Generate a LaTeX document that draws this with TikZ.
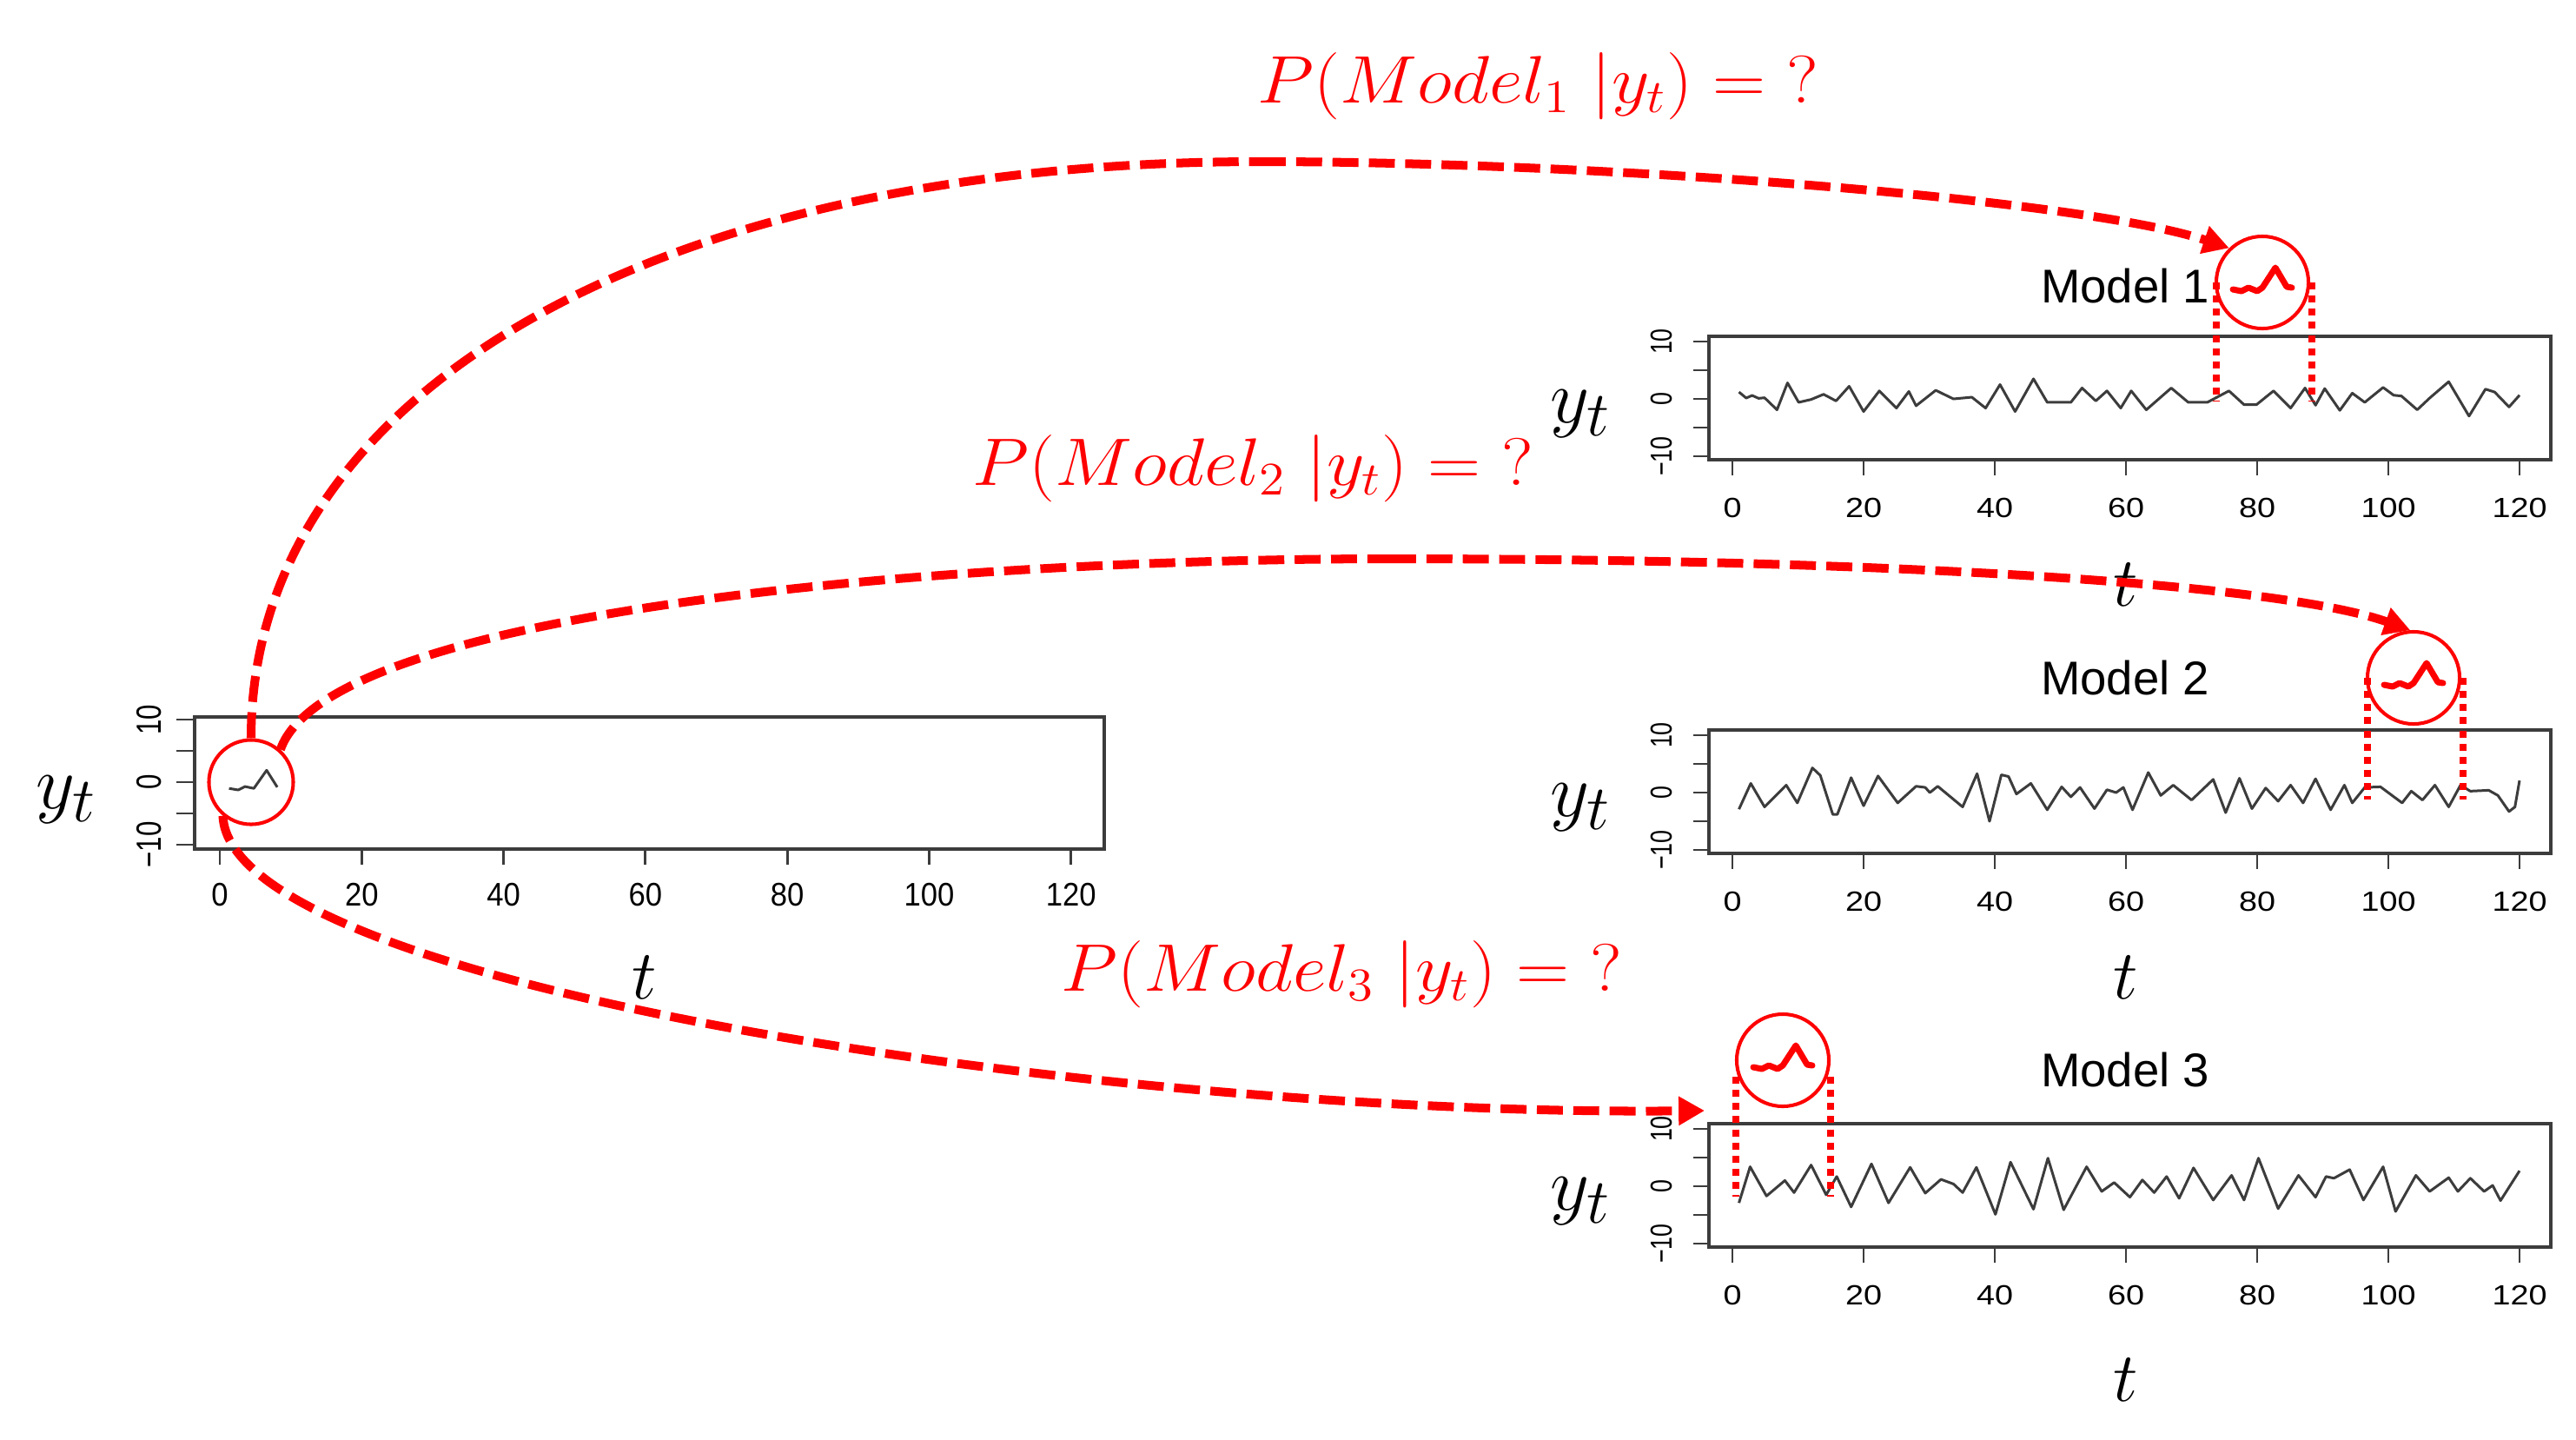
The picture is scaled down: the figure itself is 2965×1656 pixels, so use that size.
\documentclass[tikz,border=0pt]{standalone}
\usepackage{fontspec}
\newfontfamily\arialf{Liberation Sans}
\usetikzlibrary{arrows.meta}
\definecolor{pred}{HTML}{FF0000}
\definecolor{axgray}{HTML}{3C3C3C}
\newcommand\xlabR[1]{\scalebox{1.18}[1]{#1}}
\newcommand\ylabR[1]{\scalebox{0.84}[1.09]{#1}}
\newcommand\xlabL[1]{\scalebox{0.92}[1]{#1}}
\newcommand\ylabL[1]{\scalebox{0.83}[1.07]{#1}}
\newcommand\fml[1]{\scalebox{1.16}[1.06]{$P(Model_{#1}\;|y_t) = {?}$}}
\begin{document}
\begin{tikzpicture}[x=0.01cm, y=-0.01cm,
  boxline/.style={draw=axgray, line width=0.9pt},
  tickline/.style={draw=axgray, line width=0.8pt},
  series/.style={draw=axgray, line width=0.85pt, line join=round},
  rlab/.style={inner sep=0pt, font=\arialf\fontsize{9.1pt}{10pt}\selectfont},
  llab/.style={inner sep=0pt, font=\arialf\fontsize{10.7pt}{12pt}\selectfont},
  mtitle/.style={inner sep=0pt, anchor=base, font=\arialf\fontsize{15.5pt}{18pt}\selectfont},
  axlab/.style={inner sep=0pt, font=\fontsize{24.88pt}{30pt}\selectfont},
  tlab/.style={inner sep=0pt, font=\fontsize{20.74pt}{25pt}\selectfont},
  formula/.style={inner sep=0pt, anchor=base west, text=pred, font=\fontsize{20.74pt}{25pt}\selectfont},
  zoomcirc/.style={circle, draw=pred, line width=1.15pt, inner sep=0pt, minimum size=1.06cm},
  leftcirc/.style={circle, draw=pred, line width=1.15pt, inner sep=0pt, minimum size=0.97cm},
  bigline/.style={draw=pred, line width=2.85pt, dash pattern=on 8.5pt off 3.4pt},
  bigarrow/.style={bigline, -{Triangle[length=8.5pt,width=9pt]}},
  dotline/.style={draw=pred, line width=2.3pt, dash pattern=on 2.3pt off 2pt},
  redsnip/.pic={\draw[pred, line width=2pt, line join=round, line cap=round]
     (-34,8) -- (-24,10) -- (-16,6) -- (-6,10) -- (0,6) -- (15,-17) -- (28,5) -- (34,6);}
]
\fill[white] (0,0) rectangle (2965,1656);
\useasboundingbox (0,0) rectangle (2965,1656);

% ---------------- left plot ----------------
\draw[boxline] (224,825) rectangle (1271,977);
\foreach \tv in {0,20,...,120}{
  \draw[tickline] ({253+8.165*\tv},977) -- ++(0,18);
  \node[llab] (lx\tv) at ({253+8.165*\tv},1030) {\xlabL{\tv}};
}
\foreach \v in {-10,-5,0,5,10} \draw[tickline] (203,{900-7.2*\v}) -- (224,{900-7.2*\v});
\node[llab, rotate=90] (ly1) at (172,828) {\ylabL{10}};
\node[llab, rotate=90] (ly2) at (172,900) {\ylabL{0}};
\node[llab, rotate=90] (ly3) at (172,972) {\ylabL{−10}};
\begin{scope}[shift={(253,900)}, xscale=8.165, yscale=-7.2]
  \draw[series] (1.3,-1) -- (2.6,-1.25) -- (3.55,-0.7) -- (4.8,-1) -- (6.6,1.9) -- (8.1,-0.8);
\end{scope}
\node[axlab] (ly) at (76,920) {$y_t$};
\node[tlab, scale=1.1] (lt) at (742,1125) {$t$};

% ---------------- right plots frames ----------------
\foreach \yy [count=\k] in {387,840,1293}{
  \pgfmathsetmacro{\pbot}{\yy+142}
  \pgfmathsetmacro{\pzero}{\yy+72}
  \draw[boxline] (1967,\yy) rectangle (2936,\pbot);
  \foreach \tv in {0,20,...,120}{
    \draw[tickline] ({1994+7.55*\tv},\pbot) -- ++(0,18);
    \node[rlab] (rx\k-\tv) at ({1994+7.55*\tv},{\pbot+55}) {\xlabR{\tv}};
  }
  \foreach \v in {-10,-5,0,5,10} \draw[tickline] (1949,{\pzero-6.6*\v}) -- (1967,{\pzero-6.6*\v});
  \node[rlab, rotate=90] (ry\k a) at (1912,{\pzero-66}) {\ylabR{10}};
  \node[rlab, rotate=90] (ry\k b) at (1912,\pzero) {\ylabR{0}};
  \node[rlab, rotate=90] (ry\k c) at (1912,{\pzero+66}) {\ylabR{−10}};
}

% Model 1 series
\begin{scope}[shift={(1994,459)}, xscale=7.55, yscale=-6.6]
\draw[series] (1,1.2) -- (2.1,0.15) -- (3,0.6) -- (4,0.1) -- (4.9,0.2) -- (6.8,-1.9) -- (8.4,2.8) -- (10.1,-0.6) -- (12,-0.1) -- (13.9,0.8) -- (15.8,-0.35) -- (17.8,2.2) -- (20,-2.2) -- (22.4,1.4) -- (25,-1.6) -- (26.9,1.3) -- (28,-1.2) -- (31,1.5) -- (33.7,0) -- (36.5,0.3) -- (38.6,-1.6) -- (40.8,2.5) -- (43.1,-2.2) -- (45.9,3.5) -- (48,-0.6) -- (51.6,-0.6) -- (53.3,1.9) -- (55.4,-0.35) -- (57.1,1.4) -- (59.2,-1.6) -- (60.8,1.4) -- (63.1,-1.9) -- (66.9,1.9) -- (69.5,-0.6) -- (72.4,-0.6) -- (75.7,1.4) -- (78,-1) -- (79.9,-1) -- (82.5,1.4) -- (85.1,-1.6) -- (87.3,1.9) -- (88.9,-1.1) -- (90.3,1.8) -- (92.6,-2) -- (94.5,1) -- (96.4,-0.6) -- (99.2,2) -- (100.8,0.65) -- (102,0.5) -- (104.4,-1.9) -- (106.3,0.15) -- (109.2,3) -- (112.3,-3) -- (114.8,1.7) -- (116.2,1.2) -- (118.4,-1.4) -- (120,0.65);
\end{scope}
% Model 2 series
\begin{scope}[shift={(1994,912)}, xscale=7.55, yscale=-6.6]
\draw[series] (1,-2.9) -- (2.8,1.6) -- (4.9,-2.5) -- (8.2,1.3) -- (9.9,-1.8) -- (12.2,4.3) -- (13.4,3) -- (15.3,-3.8) -- (16,-3.8) -- (18.1,2.6) -- (20,-2.3) -- (22.2,2.9) -- (25.2,-1.8) -- (28,1.1) -- (29.4,0.9) -- (30.1,0) -- (31.3,1.1) -- (35.1,-2.5) -- (37.3,3.3) -- (39.2,-5) -- (41,3.1) -- (42.1,2.8) -- (43.3,-0.25) -- (45.5,1.6) -- (48,-3) -- (50.2,1) -- (51.6,-0.75) -- (53,0.9) -- (55.2,-2.8) -- (57.1,0.5) -- (58.5,0) -- (59.6,0.9) -- (61,-3) -- (63.4,3.5) -- (65.3,-0.5) -- (67.2,1.3) -- (70,-1.3) -- (73.3,2.3) -- (75.2,-3.5) -- (77.3,2.5) -- (79.2,-2.8) -- (81.3,0.8) -- (83.2,-1.5) -- (85.1,1.3) -- (87,-1.8) -- (88.9,2.4) -- (91.2,-3) -- (93.3,1.3) -- (94.5,-1.8) -- (96.4,0.9) -- (98.8,1) -- (102.1,-1.8) -- (103.5,0.25) -- (105.2,-1.3) -- (107.1,1.3) -- (109.2,-2.5) -- (111,1.3) -- (112.5,0.25) -- (115.3,0.4) -- (116.7,-0.5) -- (118.4,-3.3) -- (119.3,-2.5) -- (120,2.1);
\end{scope}
% Model 3 series
\begin{scope}[shift={(1994,1365)}, xscale=7.55, yscale=-6.6]
\draw[series] (1,-2.9) -- (2.7,3.4) -- (5.2,-1.7) -- (8,1) -- (9.4,-1.1) -- (12,3.7) -- (14.3,-1.5) -- (15.9,1.7) -- (18.1,-3.6) -- (21.2,3.9) -- (23.8,-2.9) -- (27.1,3.3) -- (29.4,-1.2) -- (31.8,1.2) -- (33.7,0.4) -- (35.1,-1.1) -- (37.2,3.3) -- (40.1,-4.9) -- (42.4,4.2) -- (45.9,-4) -- (48.1,4.9) -- (50.5,-4.1) -- (54,3.4) -- (56.3,-0.9) -- (58.2,0.65) -- (60.6,-1.9) -- (62.5,1.1) -- (64.3,-1.1) -- (66.2,1.7) -- (68.1,-2.1) -- (70.3,3.2) -- (73.3,-2.4) -- (76.1,1.9) -- (78,-2.4) -- (80.2,4.9) -- (83.2,-3.9) -- (86.3,1.9) -- (88.9,-1.9) -- (90.5,1.7) -- (91.7,1.4) -- (94.1,2.9) -- (96.2,-2.4) -- (99.2,3.4) -- (101.1,-4.4) -- (104.2,1.9) -- (106.3,-0.9) -- (109.2,1.5) -- (110.6,-0.9) -- (112.5,1.4) -- (114.6,-0.9) -- (115.9,0.15) -- (117.1,-2.5) -- (120,2.7);
\end{scope}

% labels of right plots
\node[mtitle] (t1) at (2446,348) {Model 1};
\node[mtitle] (t2) at (2446,799) {Model 2};
\node[mtitle] (t3) at (2446,1250) {Model 3};
\node[axlab] (y1) at (1819,476) {$y_t$};
\node[axlab] (y2) at (1819,929) {$y_t$};
\node[axlab] (y3) at (1819,1382) {$y_t$};
\node[tlab, scale=1.1] (tt1) at (2447,673) {$t$};
\node[tlab, scale=1.1] (tt2) at (2447,1125) {$t$};
\node[tlab, scale=1.1] (tt3) at (2447,1588) {$t$};

% dotted windows
\draw[dotline] (2551,325) -- (2551,462);
\draw[dotline] (2661,325) -- (2661,462);
\draw[dotline] (2725,780) -- (2725,920);
\draw[dotline] (2835,780) -- (2835,920);
\draw[dotline] (1998,1239) -- (1998,1377);
\draw[dotline] (2107,1239) -- (2107,1377);

% circles
\node[leftcirc] (c0) at (289,900) {};
\node[zoomcirc] (m1c) at (2604,325) {};
\node[zoomcirc] (m2c) at (2778,780) {};
\node[zoomcirc] (m3c) at (2052,1220) {};
\pic at (2604,325) {redsnip};
\pic at (2778,780) {redsnip};
\pic at (2052,1220) {redsnip};

% formulas
\node[formula] (f1) at (1447,118) {\fml{1}};
\node[formula] (f2) at (1119,558) {\fml{2}};
\node[formula] (f3) at (1221,1140) {\fml{3}};

% arrows
\coordinate (p1) at (1450,186);
\coordinate (p2) at (1600,643);
\coordinate (e3) at (1962,1278);
\draw[bigline] (c0.90) .. controls (289,452) and (753,186) .. (p1);
\draw[bigarrow] (p1) .. controls (1850,186) and (2400,230) .. (m1c.134);
\draw[bigline] (c0.48) .. controls (380,700) and (1100,643) .. (p2);
\draw[bigarrow] (p2) .. controls (2150,643) and (2620,670) .. (m2c.94);
\draw[bigarrow] (c0.230) .. controls (265,1140) and (1300,1285) .. (e3);
\end{tikzpicture}
\end{document}
